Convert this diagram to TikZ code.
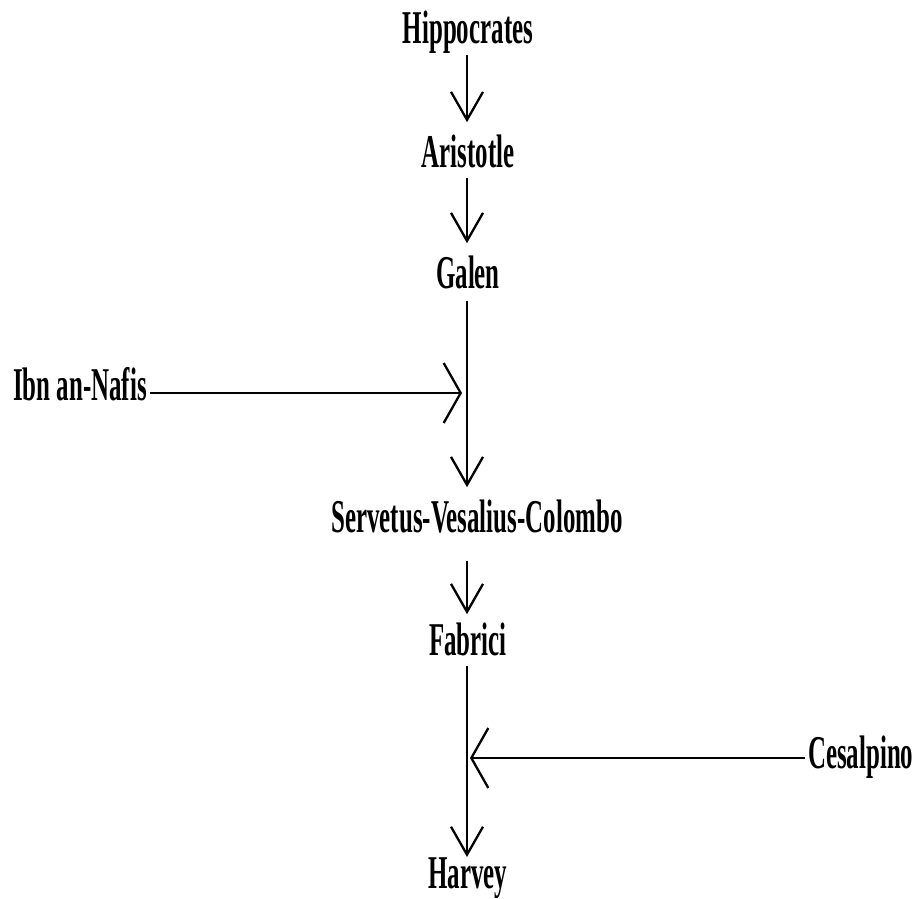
\documentclass[tikz,border=0pt]{standalone}
\usepackage{fontspec}
\setmainfont{Liberation Serif}[FakeStretch=0.53]
\usetikzlibrary{arrows.meta}
\begin{document}
\begin{tikzpicture}[x=1pt,y=-1pt,
  lbl/.style={inner sep=0pt, font=\fontsize{47}{47}\selectfont\bfseries, anchor=base},
  varr/.style={line width=2pt, -{Straight Barb[length=28pt,width=32pt,line width=2.3pt]}},
  harr/.style={line width=2.8pt, -{Straight Barb[length=17pt,width=60pt,line width=2.3pt]}}]
\useasboundingbox (0,0) rectangle (916,898);
\coordinate (spine) at (467,0);
\coordinate (m1) at (462,393);
\coordinate (m2) at (470,758);
\node[lbl] (hip) at (468,43) {Hippocrates};
\node[lbl] (ari) at (468,167) {Aristotle};
\node[lbl] (gal) at (468,288) {Galen};
\node[lbl, anchor=base west] (ibn) at (13,400) {Ibn an-Nafis};
\node[lbl] (svc) at (477,532) {Servetus-Vesalius-Colombo};
\node[lbl] (fab) at (468,655) {Fabrici};
\node[lbl, anchor=base west] (ces) at (808,768) {Cesalpino};
\node[lbl] (har) at (468,888) {Harvey};
\draw[varr, shorten <=2pt, shorten >=12pt] (hip.south -| spine) -- (ari.north -| spine);
\draw[varr, shorten <=10pt, shorten >=12pt] (ari.south -| spine) -- (gal.north -| spine);
\draw[varr, shorten <=12pt, shorten >=12pt] (gal.south -| spine) -- (svc.north -| spine);
\draw[varr, shorten <=28pt, shorten >=8pt] (svc.south -| spine) -- (fab.north -| spine);
\draw[varr, shorten <=10pt] (fab.south -| spine) -- (har.north -| spine);
\draw[harr, shorten <=3pt] (ibn.east |- m1) -- (m1);
\draw[harr, shorten <=3pt] (ces.west |- m2) -- (m2);
\end{tikzpicture}
\end{document}
